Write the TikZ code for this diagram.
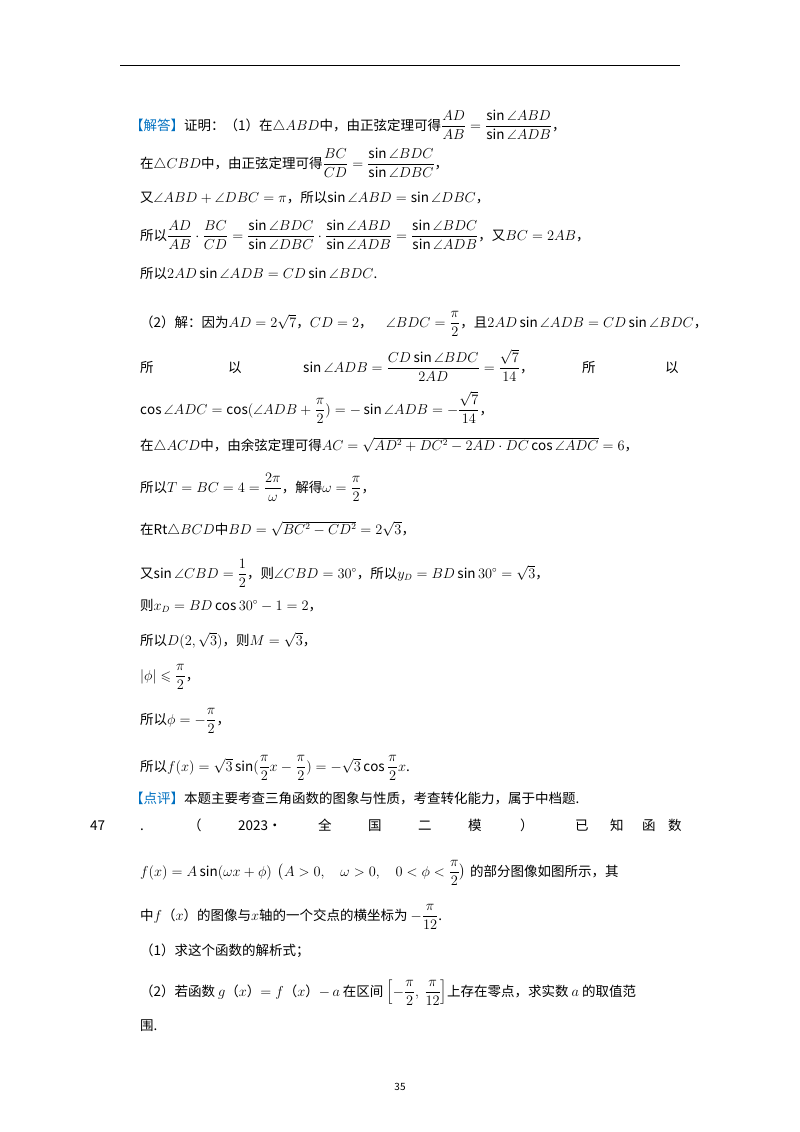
\documentclass[tikz,border=0pt]{standalone}
\usepackage{amsmath,amssymb}
\usepackage{fontspec}
\setmainfont{Noto Sans CJK SC}
\definecolor{tagblue}{RGB}{0,112,192}
\newcommand{\Ln}[4]{\node[txt] (#1) at (#2,-#3) {#4};}
\tikzset{txt/.style={anchor=base west,inner sep=0pt,font=\fontsize{13.5}{16}\selectfont}}
\begin{document}
\begin{tikzpicture}[x=1pt,y=1pt]
\useasboundingbox (0,0) rectangle (800,-1132);
\draw[line width=0.8pt] (120,-65) coordinate (r1) -- (680,-65) coordinate (r2);
\Ln{a1}{130}{130}{\textcolor{tagblue}{【解答】}证明：（1）在$\triangle ABD$中，由正弦定理可得$\dfrac{AD}{AB}=\dfrac{\sin\angle ABD}{\sin\angle ADB}$，}
\Ln{a2}{140}{168}{在$\triangle CBD$中，由正弦定理可得$\dfrac{BC}{CD}=\dfrac{\sin\angle BDC}{\sin\angle DBC}$，}
\Ln{a3}{140}{202}{又$\angle ABD+\angle DBC=\pi$，所以$\sin\angle ABD=\sin\angle DBC$，}
\Ln{a4}{140}{240}{所以$\dfrac{AD}{AB}\cdot\dfrac{BC}{CD}=\dfrac{\sin\angle BDC}{\sin\angle DBC}\cdot\dfrac{\sin\angle ABD}{\sin\angle ADB}=\dfrac{\sin\angle BDC}{\sin\angle ADB}$，又$BC=2AB$，}
\Ln{a5}{140}{278}{所以$2AD\sin\angle ADB=CD\sin\angle BDC$.}
\Ln{b1}{140}{327}{（2）解：因为$AD=2\sqrt{7}$，$CD=2$，\quad$\angle BDC=\dfrac{\pi}{2}$，且$2AD\sin\angle ADB=CD\sin\angle BDC$，}
\Ln{b2a}{140}{372}{所}
\Ln{b2b}{228}{372}{以}
\Ln{b2c}{303}{372}{$\sin\angle ADB=\dfrac{CD\sin\angle BDC}{2AD}=\dfrac{\sqrt{7}}{14}$，}
\Ln{b2d}{582}{372}{所}
\Ln{b2e}{665}{372}{以}
\Ln{b3}{140}{414}{$\cos\angle ADC=\cos(\angle ADB+\dfrac{\pi}{2})=-\sin\angle ADB=-\dfrac{\sqrt{7}}{14}$，}
\Ln{b4}{140}{450}{在$\triangle ACD$中，由余弦定理可得$AC=\sqrt{AD^2+DC^2-2AD\cdot DC\cos\angle ADC}=6$，}
\Ln{b5}{140}{492}{所以$T=BC=4=\dfrac{2\pi}{\omega}$，解得$\omega=\dfrac{\pi}{2}$，}
\Ln{b6}{140}{534}{在$\mathrm{Rt}\triangle BCD$中$BD=\sqrt{BC^2-CD^2}=2\sqrt{3}$，}
\Ln{b7}{140}{578}{又$\sin\angle CBD=\dfrac{1}{2}$，则$\angle CBD=30^\circ$，所以$y_D=BD\sin30^\circ=\sqrt{3}$，}
\Ln{b8}{140}{610}{则$x_D=BD\cos30^\circ-1=2$，}
\Ln{b9}{140}{645}{所以$D(2,\sqrt{3})$，则$M=\sqrt{3}$，}
\Ln{b10}{140}{680}{$|\phi|\leqslant\dfrac{\pi}{2}$，}
\Ln{b11}{140}{724}{所以$\phi=-\dfrac{\pi}{2}$，}
\Ln{b12}{140}{771}{所以$f(x)=\sqrt{3}\sin(\dfrac{\pi}{2}x-\dfrac{\pi}{2})=-\sqrt{3}\cos\dfrac{\pi}{2}x$.}
\Ln{c1}{130}{803}{\textcolor{tagblue}{【点评】}本题主要考查三角函数的图象与性质，考查转化能力，属于中档题.}
\Ln{d0}{90}{830}{47}
\Ln{d1}{140}{830}{.}
\Ln{d2}{188}{830}{（}
\Ln{d3}{238}{830}{2023•}
\Ln{d4}{318}{830}{全}
\Ln{d5}{368}{830}{国}
\Ln{d6}{418}{830}{二}
\Ln{d7}{468}{830}{模}
\Ln{d8}{520}{830}{）}
\Ln{d9}{575}{830}{已}
\Ln{d10}{610}{830}{知}
\Ln{d11}{642}{830}{函}
\Ln{d12}{668}{830}{数}
\Ln{e1}{140}{876}{$f(x)=A\sin(\omega x+\phi)\ \ \bigl(A>0,\quad \omega>0,\quad 0<\phi<\dfrac{\pi}{2}\bigr)$\hspace{4pt}的部分图像如图所示，其}
\Ln{e2}{140}{920}{中$f$（$x$）的图像与$x$轴的一个交点的横坐标为 $-\dfrac{\pi}{12}$.}
\Ln{e3}{140}{955}{（1）求这个函数的解析式；}
\Ln{e4}{140}{996}{（2）若函数 $g$（$x$）$=f$（$x$）$-\,a$ 在区间 $\left[-\dfrac{\pi}{2},\ \dfrac{\pi}{12}\right]$上存在零点，求实数 $a$ 的取值范}
\Ln{e5}{140}{1030}{围.}
\node[txt,anchor=base,font=\fontsize{10}{12}\selectfont] (pg) at (400,-1090) {35};
\end{tikzpicture}
\end{document}
